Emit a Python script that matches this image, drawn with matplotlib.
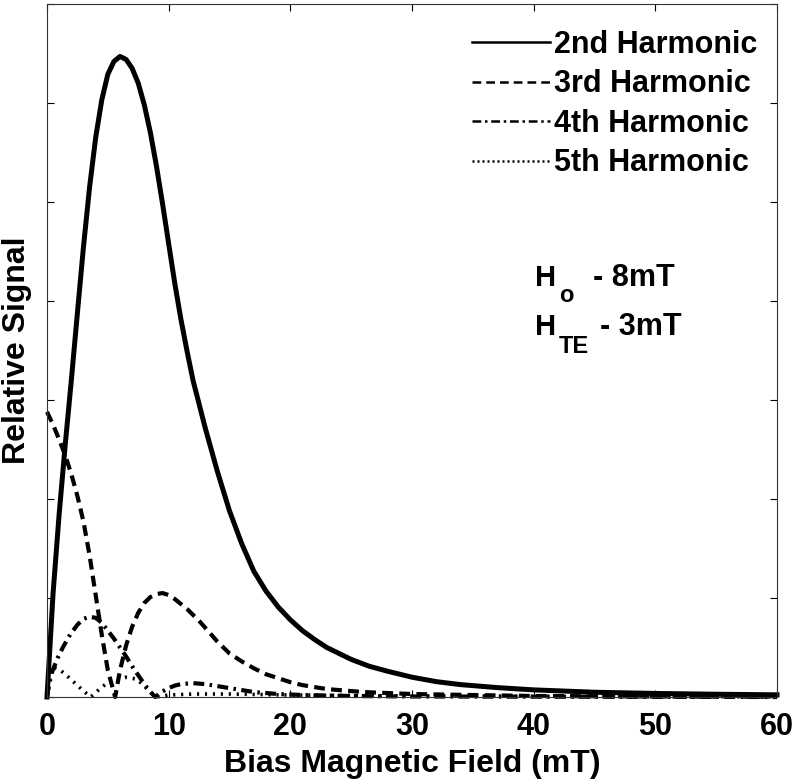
import matplotlib
matplotlib.use("Agg")
import matplotlib.pyplot as plt
from matplotlib.lines import Line2D

plt.rcParams['font.family'] = ['Liberation Sans', 'DejaVu Sans']
plt.rcParams['font.weight'] = 'bold'

# values (y in tick units, 7 ticks up the axis)
x_h2 = [0, 0.5, 1.0, 1.5, 2.0, 2.5, 3.0, 3.5, 4.0, 4.5, 5.0, 5.5, 6.0, 6.5, 7.0,
        7.5, 8.0, 8.5, 9.0, 9.5, 10.0, 10.5, 11.0, 11.5, 12.0, 13.0, 14.0, 15.0, 16.0,
        17.0, 18.0, 19.0, 20.0, 21.0, 22.0, 23.0, 24.0, 25.0, 26.5, 28.0, 30.0, 32.0,
        34.0, 37.0, 40.0, 45.0, 50.0, 55.0, 60.0]
y_h2 = [0, 1.05, 1.85, 2.55, 3.2, 3.88, 4.55, 5.15, 5.65, 6.03, 6.29, 6.42, 6.47,
        6.44, 6.35, 6.2, 5.98, 5.7, 5.36, 4.98, 4.58, 4.18, 3.82, 3.5, 3.2, 2.72,
        2.28, 1.88, 1.55, 1.27, 1.07, 0.91, 0.78, 0.67, 0.58, 0.5, 0.44, 0.38, 0.31,
        0.26, 0.2, 0.155, 0.125, 0.095, 0.072, 0.048, 0.036, 0.028, 0.022]

x_h3 = [0, 0.5, 1.0, 1.5, 2.0, 2.5, 3.0, 3.5, 4.0, 4.5, 5.0, 5.6, 6.0, 6.5, 7.0,
        7.5, 8.0, 8.5, 9.0, 9.5, 10.0, 10.5, 11.0, 11.5, 12.0, 12.5, 13.0, 13.5, 14.0,
        14.5, 15.0, 16.0, 17.0, 18.0, 19.0, 20.0, 21.0, 22.0, 23.0, 24.0, 26.0, 28.0,
        30.0, 35.0, 40.0, 50.0, 60.0]
y_h3 = [2.88, 2.75, 2.6, 2.44, 2.25, 2.03, 1.77, 1.43, 1.03, 0.63, 0.27, 0.0, 0.27,
        0.52, 0.71, 0.85, 0.95, 1.01, 1.04, 1.05, 1.03, 0.99, 0.94, 0.89, 0.83, 0.77,
        0.7, 0.63, 0.56, 0.5, 0.44, 0.36, 0.29, 0.23, 0.19, 0.15, 0.12, 0.1, 0.08,
        0.07, 0.05, 0.04, 0.03, 0.02, 0.01, 0.005, 0.003]

x_h4 = [0, 0.25, 0.5, 0.9, 1.3, 1.9, 2.5, 3.0, 3.5, 4.0, 4.5, 5.0, 5.5, 6.0, 6.5,
        7.0, 7.5, 8.0, 8.5, 8.9, 9.4, 10.0, 10.5, 11.0, 12.0, 13.0, 14.0, 15.0, 16.0,
        17.0, 19.0, 21.0, 25.0, 30.0, 60.0]
y_h4 = [0, 0.2, 0.28, 0.4, 0.5, 0.63, 0.73, 0.79, 0.81, 0.8, 0.75, 0.67, 0.59, 0.5,
        0.41, 0.31, 0.22, 0.13, 0.05, 0.0, 0.05, 0.09, 0.115, 0.13, 0.14, 0.13, 0.11,
        0.09, 0.07, 0.05, 0.03, 0.02, 0.01, 0.005, 0.0]

x_h5 = [0, 0.5, 1.0, 1.5, 2.3, 3.0, 3.6, 4.5, 5.3, 6.4, 7.4, 7.9, 8.5, 9.0, 10.0, 12.0,
        15.0, 20.0, 25.0, 30.0, 40.0, 60.0]
y_h5 = [0, 0.3, 0.28, 0.23, 0.14, 0.06, 0.0, 0.1, 0.17, 0.2, 0.18, 0.12, 0.05, 0.0,
        0.02, 0.03, 0.03, 0.02, 0.015, 0.01, 0.005, 0.002]

labels = ['2nd Harmonic', '3rd Harmonic', '4th Harmonic', '5th Harmonic']
x_ticks = [0, 10, 20, 30, 40, 50, 60]

styles = ['-', (0, (2.6, 1.5)), (0, (2.6, 1.3, 0.6, 1.3)), (0, (0.6, 1.6))]
widths = [3.6, 3.0, 3.0, 2.6]

fig = plt.figure(figsize=(7.98, 7.79), dpi=100)
ax = fig.add_axes([47 / 798, 82 / 779, 730 / 798, 693 / 779])

series = [(x_h2, y_h2), (x_h3, y_h3), (x_h4, y_h4), (x_h5, y_h5)]
for (xs, ys), ls, lw in zip(series, styles, widths):
    ax.plot(xs, ys, color='black', linestyle=ls, linewidth=lw, clip_on=False,
            solid_joinstyle='round')

ax.set_xlim(0, 60)
ax.set_ylim(0, 7)
ax.set_xticks(x_ticks)
ax.set_yticks(range(8))
ax.set_yticklabels([])
ax.tick_params(direction='in', length=5, width=0.8, top=True, right=True,
               labelsize=22, pad=11)
for lab in ax.get_xticklabels():
    lab.set_fontweight('bold')
for sp in ax.spines.values():
    sp.set_linewidth(0.8)
    sp.set_color('#333333')

ax.set_xlabel('Bias Magnetic Field (mT)', fontsize=23, fontweight='bold', labelpad=5)
ax.set_ylabel('Relative Signal', fontsize=23, fontweight='bold', va='center')
ax.yaxis.set_label_coords(-30 / 730, 0.5)

handles = [Line2D([], [], color='black', linestyle=ls, linewidth=1.8)
           for ls in ['-', (0, (3.5, 2)), (0, (3.5, 1.5, 1, 1.5)), (0, (0.8, 1.2))]]
ax.legend(handles, labels, loc='upper left', bbox_to_anchor=(472 / 798, 1 - 30 / 779),
          bbox_transform=fig.transFigure, frameon=False, borderpad=0, borderaxespad=0,
          handlelength=2.55, handletextpad=0.15, labelspacing=0.31,
          prop={'family': 'Liberation Sans', 'weight': 'bold', 'size': 22})

# annotation with subscripts
fig.text(535 / 798, 1 - 286 / 779, 'H', fontsize=21, fontweight='bold', va='baseline')
fig.text(559 / 798, 1 - 302 / 779, 'o', fontsize=17, fontweight='bold', va='baseline')
fig.text(593 / 798, 1 - 286 / 779, '- 8mT', fontsize=22, fontweight='bold', va='baseline')
fig.text(535 / 798, 1 - 335 / 779, 'H', fontsize=21, fontweight='bold', va='baseline')
fig.text(559 / 798, 1 - 353 / 779, 'TE', fontsize=17, fontweight='bold', va='baseline')
fig.text(600 / 798, 1 - 335 / 779, '- 3mT', fontsize=22, fontweight='bold', va='baseline')

fig.savefig('out.png', dpi=100)
